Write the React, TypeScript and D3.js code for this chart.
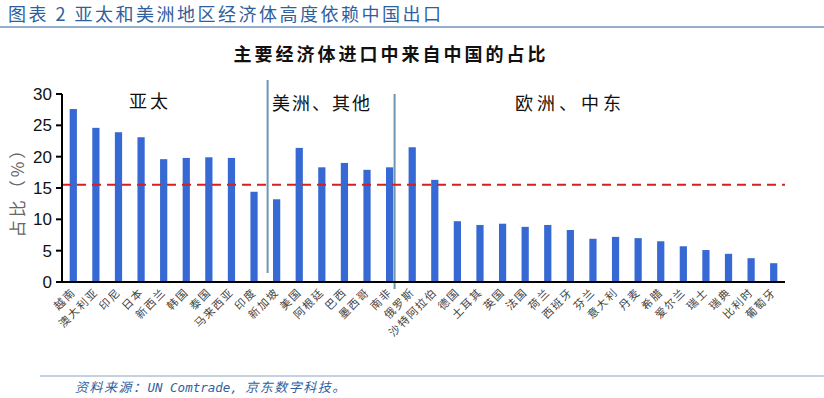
import React from "react";
import * as d3 from "d3";

const categories = ["越南","澳大利亚","印尼","日本","新西兰","韩国","泰国","马来西亚","印度","新加坡","美国","阿根廷","巴西","墨西哥","南非","俄罗斯","沙特阿拉伯","德国","土耳其","英国","法国","荷兰","西班牙","芬兰","意大利","丹麦","希腊","爱尔兰","瑞士","瑞典","比利时","葡萄牙"];
const shares = [27.6,24.6,23.9,23.1,19.6,19.8,19.9,19.8,14.4,13.2,21.4,18.3,19.0,17.9,18.3,21.5,16.3,9.7,9.1,9.3,8.8,9.1,8.3,6.9,7.2,7.0,6.5,5.7,5.1,4.5,3.8,3.0];
const yTicks = [0,5,10,15,20,25,30];
const averageLine = 15.5;
const regionLabels = ["亚太","美洲、其他","欧洲、中东"];

const W = 824, H = 398;
const CJK = "'Noto Sans CJK SC', 'Noto Sans', sans-serif";

export default function App() {
  const x = d3.scaleBand<string>().domain(categories).range([62, 785]).paddingInner(0.68).paddingOuter(0.34);
  const y = d3.scaleLinear().domain([0, 30]).range([282, 94]);
  const step = x.step();
  const cx = (c: string) => (x(c) as number) + x.bandwidth() / 2;
  const sep1 = cx(categories[8]) + step * 0.6;
  const sep2 = cx(categories[14]) + step * 0.22;
  return (
    <svg width={W} height={H} style={{ position: "absolute", left: 0, top: 0, background: "#fff" }}>
      <text x={8} y={21} fontFamily={CJK} fontSize={18} letterSpacing={2.5} fill="#2f5f9e">图表 2  亚太和美洲地区经济体高度依赖中国出口</text>
      <line x1={0} x2={W} y1={27} y2={27} stroke="#2f5f9e" strokeWidth={1} />
      <text x={391} y={61} textAnchor="middle" fontFamily={CJK} fontSize={18} letterSpacing={3} fontWeight="bold" fill="#111">主要经济体进口中来自中国的占比</text>

      {shares.map((v, i) => (
        <rect key={i} x={x(categories[i])} y={y(v)} width={x.bandwidth()} height={y(0) - y(v)} fill="#3669d3" />
      ))}

      <line x1={sep1} x2={sep1} y1={80} y2={273} stroke="#6f95b3" strokeWidth={2} />
      <line x1={sep2} x2={sep2} y1={94} y2={289} stroke="#6f95b3" strokeWidth={2} />

      <line x1={62} x2={785} y1={y(averageLine)} y2={y(averageLine)} stroke="#d42020" strokeWidth={2} strokeDasharray="9,6" />

      <line x1={62} x2={62} y1={y(30)} y2={y(0)} stroke="#000" strokeWidth={2} />
      <line x1={61} x2={785} y1={y(0)} y2={y(0)} stroke="#000" strokeWidth={2} />
      {yTicks.map(t => (
        <g key={t}>
          <line x1={56} x2={62} y1={y(t)} y2={y(t)} stroke="#000" strokeWidth={2} />
          <text x={52} y={y(t)} dy="0.36em" textAnchor="end" fontFamily="Arial, 'Liberation Sans', sans-serif" fontSize={17} fill="#111">{t}</text>
        </g>
      ))}
      <text transform={`translate(24,${(y(0) + y(30)) / 2}) rotate(-90)`} textAnchor="middle" fontFamily={CJK} fontSize={17} letterSpacing={3} fill="#666">占比（%）</text>

      {categories.map(c => (
        <text key={c} transform={`translate(${cx(c) + 3},${293}) rotate(-45)`} textAnchor="end" fontFamily={CJK} fontSize={11} letterSpacing={1.5} fill="#444">{c}</text>
      ))}

      <text x={150} y={108} textAnchor="middle" fontFamily={CJK} fontSize={18} letterSpacing={3} fill="#111">{regionLabels[0]}</text>
      <text x={322} y={110} textAnchor="middle" fontFamily={CJK} fontSize={18} letterSpacing={2} fill="#111">{regionLabels[1]}</text>
      <text x={570} y={110} textAnchor="middle" fontFamily={CJK} fontSize={18} letterSpacing={4} fill="#111">{regionLabels[2]}</text>

      <line x1={40} x2={W} y1={376} y2={376} stroke="#8aa6c0" strokeWidth={1} />
      <text x={75} y={392} fontFamily={CJK} fontSize={13} fontStyle="italic" fill="#2f5f9e">
        <tspan letterSpacing={1.5}>资料来源：</tspan>
        <tspan fontFamily="'DejaVu Sans Mono', 'Liberation Mono', monospace" fontSize={12.5}>UN Comtrade, </tspan>
        <tspan letterSpacing={1.5}>京东数字科技。</tspan>
      </text>
    </svg>
  );
}
